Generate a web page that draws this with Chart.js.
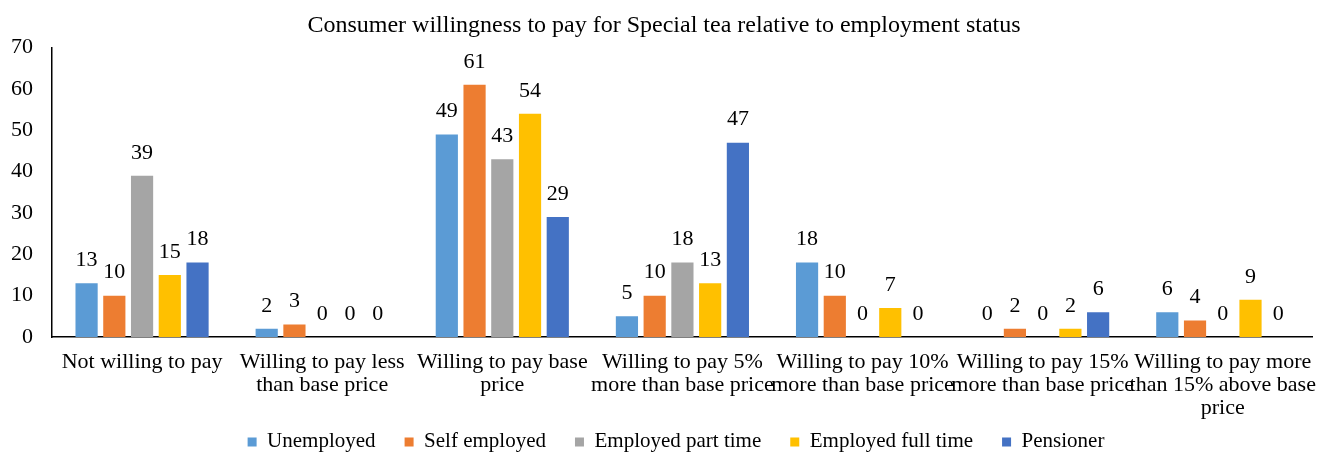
<!DOCTYPE html>
<html>
<head>
<meta charset="utf-8">
<script src="https://cdn.jsdelivr.net/npm/chart.js@4/dist/chart.umd.min.js"></script>
<style>
html,body{margin:0;padding:0;background:#fff;}
#wrap{width:1330px;height:452px;position:relative;}
</style>
</head>
<body>
<div id="wrap"><canvas id="c" width="1330" height="452"></canvas></div>
<script>
const categories = [
  ["Not willing to pay"],
  ["Willing to pay less", "than base price"],
  ["Willing to pay base", "price"],
  ["Willing to pay 5%", "more than base price"],
  ["Willing to pay 10%", "more than base price"],
  ["Willing to pay 15%", "more than base price"],
  ["Willing to pay more", "than 15% above base", "price"]
];
const unemployed = [13, 2, 49, 5, 18, 0, 6];
const selfEmployed = [10, 3, 61, 10, 10, 2, 4];
const partTime = [39, 0, 43, 18, 0, 0, 0];
const fullTime = [15, 0, 54, 13, 7, 2, 9];
const pensioner = [18, 0, 29, 47, 0, 6, 0];
const yTicks = [0, 10, 20, 30, 40, 50, 60, 70];

const FONT = "'Liberation Serif', 'Times New Roman', serif";

const labelPlugin = {
  id: 'barLabels',
  afterDatasetsDraw(chart) {
    const ctx = chart.ctx;
    ctx.save();
    ctx.font = '22px ' + FONT;
    ctx.fillStyle = '#000';
    ctx.textAlign = 'center';
    ctx.textBaseline = 'middle';
    chart.data.datasets.forEach((ds, i) => {
      const meta = chart.getDatasetMeta(i);
      meta.data.forEach((bar, j) => {
        ctx.fillText(String(ds.data[j]), bar.x, bar.y - 23);
      });
    });
    ctx.restore();
  }
};

// move the legend row up so it sits just below the category labels
const legendShift = {
  id: 'legendShift',
  afterLayout(chart) {
    const lg = chart.legend;
    if (!lg) return;
    lg.top = 402.4;
    lg.bottom = chart.height;
    lg.height = lg.bottom - lg.top;
    lg.left += 12;
    lg.right += 12;
  }
};

new Chart(document.getElementById('c'), {
  type: 'bar',
  data: {
    labels: categories,
    datasets: [
      { label: 'Unemployed', data: unemployed, backgroundColor: '#5B9BD5' },
      { label: 'Self employed', data: selfEmployed, backgroundColor: '#ED7D31' },
      { label: 'Employed part time', data: partTime, backgroundColor: '#A5A5A5' },
      { label: 'Employed full time', data: fullTime, backgroundColor: '#FFC000' },
      { label: 'Pensioner', data: pensioner, backgroundColor: '#4472C4' }
    ]
  },
  options: {
    responsive: false,
    animation: false,
    layout: { padding: { left: 6, right: 8, top: 0, bottom: 0 } },
    datasets: { bar: { categoryPercentage: 0.77, barPercentage: 0.8 } },
    plugins: {
      title: {
        display: true,
        text: 'Consumer willingness to pay for Special tea relative to employment status',
        color: '#000',
        font: { family: FONT, size: 24, weight: 'normal', lineHeight: 1.15 },
        padding: { top: 12, bottom: 8 }
      },
      legend: {
        position: 'bottom',
        maxHeight: 32,
        labels: {
          color: '#000',
          font: { family: FONT, size: 21 },
          boxWidth: 9, boxHeight: 9,
          padding: 29
        }
      },
      tooltip: { enabled: false }
    },
    scales: {
      x: {
        afterFit(axis) { axis.height = 83; },
        grid: { display: false, drawTicks: false },
        border: { color: '#000', width: 1.5 },
        ticks: {
          color: '#000',
          font: { family: FONT, size: 22, lineHeight: 1.05 },
          padding: 13.5,
          maxRotation: 0,
          autoSkip: false
        }
      },
      y: {
        min: 0, max: 70,
        afterBuildTicks(axis) { axis.ticks = yTicks.map(v => ({ value: v })); },
        afterFit(axis) { axis.width = 46; },
        grid: { display: false, drawTicks: false },
        border: { color: '#000', width: 1.5 },
        ticks: {
          color: '#000',
          font: { family: FONT, size: 22 },
          padding: 19
        }
      }
    }
  },
  plugins: [labelPlugin, legendShift]
});
</script>
</body>
</html>
